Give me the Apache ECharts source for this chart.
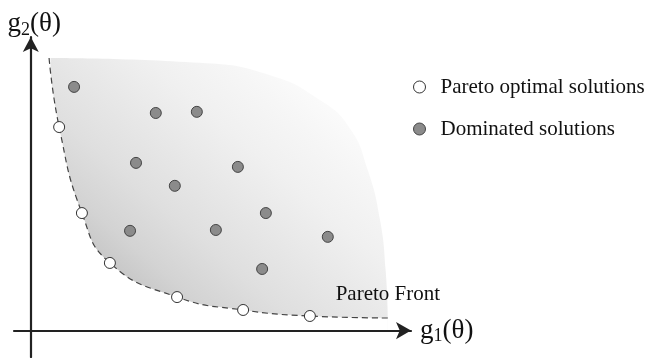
<!DOCTYPE html>
<html>
<head>
<meta charset="utf-8">
<script src="https://cdn.jsdelivr.net/npm/echarts@6/dist/echarts.min.js"></script>
<style>
  html, body { margin: 0; padding: 0; background: #ffffff; }
  #chart { width: 652px; height: 358px; }
</style>
</head>
<body>
<div id="chart"></div>
<script>
// Objective space: g1(θ) on the horizontal axis, g2(θ) on the vertical axis.

// Non-dominated (Pareto optimal) solutions [g1, g2]
const paretoOptimal = [
  [0.76, 7.10], [1.37, 4.10], [2.12, 2.36], [3.92, 1.17], [5.69, 0.72], [7.48, 0.51]
];

// Dominated solutions [g1, g2]
const dominated = [
  [1.16, 8.50], [3.35, 7.59], [4.45, 7.63], [2.82, 5.85], [5.55, 5.71], [3.86, 5.05],
  [6.30, 4.10], [2.66, 3.48], [4.96, 3.51], [7.96, 3.27], [6.20, 2.15]
];

// The two ends of the Pareto front curve
const frontStart = [0.49, 9.51];
const frontEnd = [9.57, 0.44];

// Outer edge of the attainable region, from its top-left corner round to the far end of the front
const regionEdge = [
  [0.53, 9.51], [4.53, 9.34], [6.41, 8.91], [7.75, 8.04], [8.55, 7.06],
  [9.03, 5.60], [9.36, 3.86], [9.51, 2.11], [9.57, 0.44]
];

// Axis extents (the axes run a little past the origin)
const xRange = [-0.45, 10.19];
const yRange = [-0.92, 10.24];

const seriesNames = ['Pareto optimal solutions', 'Dominated solutions'];
const frontLabel = 'Pareto Front';

const serif = "'Liberation Serif', 'Times New Roman', serif";

// Front curve: top end, the optimal solutions in order of g1, far end (labelled)
const frontData = [frontStart].concat(paretoOptimal).map(p => ({ value: p }));
frontData.push({
  value: frontEnd,
  label: {
    show: true,
    formatter: frontLabel,
    position: 'top',
    distance: 13,
    fontFamily: serif,
    fontSize: 21,
    lineHeight: 22,
    color: '#111111'
  }
});

function axisName(sub) {
  return 'g{s|' + sub + '}(θ)';
}

const nameStyle = {
  fontFamily: serif,
  fontSize: 27,
  lineHeight: 30,
  color: '#111111',
  rich: {
    s: { fontFamily: serif, fontSize: 18, lineHeight: 18, verticalAlign: 'bottom', color: '#111111' }
  }
};

const axisLineStyle = { color: '#222222', width: 2.2 };

const chart = echarts.init(document.getElementById('chart'), null, { renderer: 'canvas' });

chart.setOption({
  animation: false,
  backgroundColor: '#ffffff',
  grid: {
    left: 14, top: 37, width: 397, height: 320,
    outerBoundsMode: 'none',
    containLabel: false
  },
  legend: {
    orient: 'vertical',
    left: 408,
    top: 71,
    itemWidth: 12,
    itemHeight: 12,
    itemGap: 20,
    icon: 'circle',
    selectedMode: false,
    data: [
      { name: seriesNames[0], itemStyle: { color: '#ffffff', borderColor: '#333333', borderWidth: 1 } },
      { name: seriesNames[1], itemStyle: { color: '#8b8b8b', borderColor: '#444444', borderWidth: 1 } }
    ],
    textStyle: {
      fontFamily: serif,
      fontSize: 21,
      lineHeight: 22,
      color: '#111111',
      padding: [0, 0, 0, 10]
    }
  },
  xAxis: {
    type: 'value',
    min: xRange[0],
    max: xRange[1],
    z: 3,
    name: axisName('1'),
    nameLocation: 'end',
    nameGap: 9,
    nameTextStyle: nameStyle,
    axisLine: {
      onZero: true,
      symbol: ['none', 'arrow'],
      symbolSize: [13, 15],
      lineStyle: axisLineStyle
    },
    axisTick: { show: false },
    axisLabel: { show: false },
    splitLine: { show: false }
  },
  yAxis: {
    type: 'value',
    min: yRange[0],
    max: yRange[1],
    z: 3,
    name: axisName('2'),
    nameLocation: 'end',
    nameGap: -2,
    nameTextStyle: Object.assign({}, nameStyle, { padding: [0, 0, 0, 7] }),
    axisLine: {
      onZero: true,
      symbol: ['none', 'arrow'],
      symbolSize: [12, 15],
      lineStyle: axisLineStyle
    },
    axisTick: { show: false },
    axisLabel: { show: false },
    splitLine: { show: false }
  },
  series: [
    {
      // shaded attainable region, bounded above by its outer edge;
      // shading fades from the front towards the upper right
      type: 'line',
      data: regionEdge,
      smooth: true,
      symbol: 'none',
      silent: true,
      z: 1,
      lineStyle: { width: 0, opacity: 0 },
      areaStyle: {
        opacity: 1,
        color: {
          type: 'linear',
          x: 0.154, y: 0.835, x2: 0.79, y2: -0.088,
          colorStops: [
            { offset: 0, color: '#c0c0c0' },
            { offset: 0.15, color: '#d3d3d3' },
            { offset: 0.30, color: '#dfdfdf' },
            { offset: 0.515, color: '#ebebeb' },
            { offset: 0.606, color: '#f0f0f0' },
            { offset: 0.758, color: '#f6f6f6' },
            { offset: 0.848, color: '#fafafa' },
            { offset: 1, color: '#ffffff' }
          ]
        }
      }
    },
    {
      // dashed Pareto front; the unattainable side below it stays white
      type: 'line',
      data: frontData,
      smooth: true,
      symbol: 'circle',
      symbolSize: 0,
      showSymbol: true,
      silent: true,
      z: 2,
      lineStyle: { color: '#444444', width: 1.2, type: [6, 4] },
      areaStyle: { color: '#ffffff', opacity: 1 },
      label: { show: false }
    },
    {
      name: seriesNames[0],
      type: 'scatter',
      data: paretoOptimal,
      symbol: 'circle',
      symbolSize: 11,
      silent: true,
      z: 5,
      itemStyle: { color: '#ffffff', borderColor: '#333333', borderWidth: 1, opacity: 1 }
    },
    {
      name: seriesNames[1],
      type: 'scatter',
      data: dominated,
      symbol: 'circle',
      symbolSize: 11,
      silent: true,
      z: 5,
      itemStyle: { color: '#8b8b8b', borderColor: '#444444', borderWidth: 1, opacity: 1 }
    }
  ]
});
</script>
</body>
</html>
